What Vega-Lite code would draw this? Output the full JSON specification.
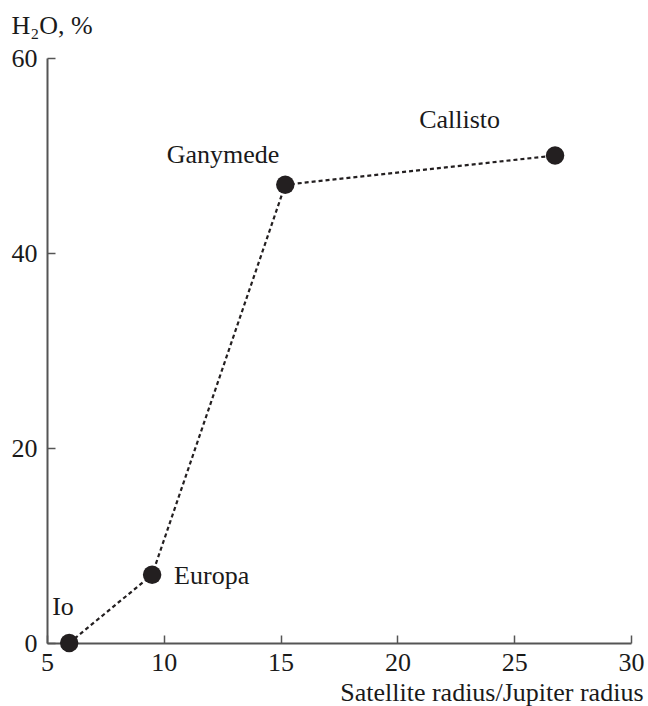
{
  "$schema": "https://vega.github.io/schema/vega-lite/v6.json",
  "width": 584,
  "height": 585,
  "autosize": {"type": "none"},
  "padding": {"left": 47, "top": 58, "right": 17, "bottom": 63},
  "background": "white",
  "config": {
    "view": {"stroke": null},
    "font": "Liberation Serif",
    "axis": {
      "grid": false,
      "domainColor": "#555555",
      "domainWidth": 2,
      "tickColor": "#555555",
      "tickWidth": 1.5,
      "tickSize": -8,
      "labelFont": "Liberation Serif",
      "labelFontSize": 26,
      "labelColor": "#1a1a1a",
      "titleFont": "Liberation Serif",
      "titleFontSize": 26,
      "titleFontWeight": "normal",
      "titleColor": "#1a1a1a"
    }
  },
  "data": {
    "values": [
      {"moon": "Io", "r": 5.95, "h2o": 0},
      {"moon": "Europa", "r": 9.5, "h2o": 7},
      {"moon": "Ganymede", "r": 15.2, "h2o": 47},
      {"moon": "Callisto", "r": 26.75, "h2o": 50}
    ]
  },
  "encoding": {
    "x": {
      "field": "r",
      "type": "quantitative",
      "scale": {"domain": [5, 30], "nice": false, "zero": false},
      "axis": {
        "values": [5, 10, 15, 20, 25, 30],
        "title": "Satellite radius/Jupiter radius",
        "titleAlign": "right",
        "titleAnchor": null,
        "titleX": 596,
        "titleY": 57,
        "titleBaseline": "alphabetic",
        "labelPadding": 14,
        "labelFlush": false,
        "labelOverlap": false
      }
    },
    "y": {
      "field": "h2o",
      "type": "quantitative",
      "scale": {"domain": [0, 60], "nice": false},
      "axis": {
        "values": [0, 20, 40, 60],
        "title": "H₂O, %",
        "titleAngle": 0,
        "titleAlign": "left",
        "titleAnchor": null,
        "titleX": -36,
        "titleY": -25,
        "titleBaseline": "alphabetic",
        "labelPadding": 18,
        "labelFlush": false,
        "labelOverlap": false
      }
    }
  },
  "layer": [
    {
      "mark": {"type": "line", "color": "#231f20", "strokeWidth": 2.2, "strokeDash": [4, 3]},
      "encoding": {"order": {"field": "r", "type": "quantitative"}}
    },
    {
      "mark": {"type": "point", "filled": true, "shape": "circle", "size": 340, "color": "#231f20", "opacity": 1}
    },
    {
      "transform": [{"filter": "datum.moon === 'Io'"}],
      "mark": {"type": "text", "align": "left", "baseline": "alphabetic", "dx": -17, "dy": -28, "fontSize": 26, "font": "Liberation Serif", "color": "#1a1a1a"},
      "encoding": {"text": {"field": "moon"}}
    },
    {
      "transform": [{"filter": "datum.moon === 'Europa'"}],
      "mark": {"type": "text", "align": "left", "baseline": "alphabetic", "dx": 22, "dy": 9, "fontSize": 26, "font": "Liberation Serif", "color": "#1a1a1a"},
      "encoding": {"text": {"field": "moon"}}
    },
    {
      "transform": [{"filter": "datum.moon === 'Ganymede'"}],
      "mark": {"type": "text", "align": "right", "baseline": "alphabetic", "dx": -6, "dy": -22, "fontSize": 26, "font": "Liberation Serif", "color": "#1a1a1a"},
      "encoding": {"text": {"field": "moon"}}
    },
    {
      "transform": [{"filter": "datum.moon === 'Callisto'"}],
      "mark": {"type": "text", "align": "right", "baseline": "alphabetic", "dx": -55, "dy": -28, "fontSize": 26, "font": "Liberation Serif", "color": "#1a1a1a"},
      "encoding": {"text": {"field": "moon"}}
    }
  ]
}
